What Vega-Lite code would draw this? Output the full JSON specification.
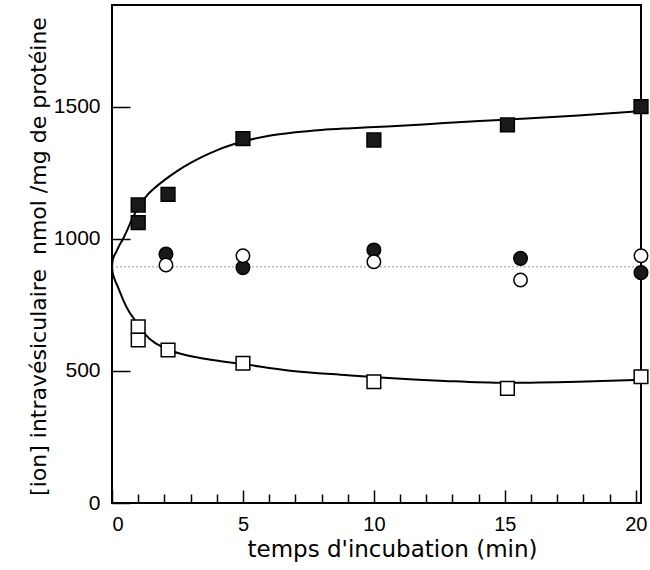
{
  "$schema": "https://vega.github.io/schema/vega-lite/v6.json",
  "width": 529,
  "height": 498,
  "autosize": {"type": "none"},
  "padding": {"left": 112, "top": 5, "right": 9, "bottom": 67},
  "background": "white",
  "config": {
    "view": {"stroke": "black", "strokeWidth": 2},
    "font": "Liberation Sans",
    "axis": {"labelFont": "Liberation Sans", "titleFont": "DejaVu Sans", "labelColor": "black", "titleColor": "black", "tickColor": "black", "domain": false, "grid": false, "titleFontWeight": "normal"}
  },
  "datasets": {
    "points": [
      {"t": 1, "v": 1128, "serie": "carré plein"},
      {"t": 1, "v": 1061, "serie": "carré plein"},
      {"t": 2.14, "v": 1168, "serie": "carré plein"},
      {"t": 5, "v": 1379, "serie": "carré plein"},
      {"t": 10, "v": 1374, "serie": "carré plein"},
      {"t": 15.1, "v": 1431, "serie": "carré plein"},
      {"t": 20.2, "v": 1500, "serie": "carré plein"},
      {"t": 1, "v": 667, "serie": "carré vide"},
      {"t": 1, "v": 617, "serie": "carré vide"},
      {"t": 2.14, "v": 579, "serie": "carré vide"},
      {"t": 5, "v": 529, "serie": "carré vide"},
      {"t": 10, "v": 459, "serie": "carré vide"},
      {"t": 15.1, "v": 434, "serie": "carré vide"},
      {"t": 20.2, "v": 478, "serie": "carré vide"},
      {"t": 2.06, "v": 942, "serie": "rond plein"},
      {"t": 5, "v": 891, "serie": "rond plein"},
      {"t": 10, "v": 958, "serie": "rond plein"},
      {"t": 15.6, "v": 926, "serie": "rond plein"},
      {"t": 20.2, "v": 872, "serie": "rond plein"},
      {"t": 2.06, "v": 901, "serie": "rond vide"},
      {"t": 5, "v": 936, "serie": "rond vide"},
      {"t": 10, "v": 913, "serie": "rond vide"},
      {"t": 15.6, "v": 844, "serie": "rond vide"},
      {"t": 20.2, "v": 936, "serie": "rond vide"}
    ],
    "curves": [
      {"t": 0, "v": 895, "c": "haut"},
      {"t": 0.02, "v": 915, "c": "haut"},
      {"t": 0.06, "v": 930, "c": "haut"},
      {"t": 0.15, "v": 948, "c": "haut"},
      {"t": 0.28, "v": 975, "c": "haut"},
      {"t": 0.44, "v": 1003, "c": "haut"},
      {"t": 0.6, "v": 1037, "c": "haut"},
      {"t": 0.75, "v": 1071, "c": "haut"},
      {"t": 0.9, "v": 1100, "c": "haut"},
      {"t": 1.1, "v": 1133, "c": "haut"},
      {"t": 1.3, "v": 1160, "c": "haut"},
      {"t": 1.6, "v": 1190, "c": "haut"},
      {"t": 2.0, "v": 1222, "c": "haut"},
      {"t": 2.5, "v": 1257, "c": "haut"},
      {"t": 3, "v": 1287, "c": "haut"},
      {"t": 3.5, "v": 1313, "c": "haut"},
      {"t": 4, "v": 1335, "c": "haut"},
      {"t": 5, "v": 1368, "c": "haut"},
      {"t": 6, "v": 1390, "c": "haut"},
      {"t": 7, "v": 1403, "c": "haut"},
      {"t": 8, "v": 1412, "c": "haut"},
      {"t": 9, "v": 1418, "c": "haut"},
      {"t": 10.5, "v": 1425, "c": "haut"},
      {"t": 12.7, "v": 1438, "c": "haut"},
      {"t": 15, "v": 1451, "c": "haut"},
      {"t": 17.8, "v": 1467, "c": "haut"},
      {"t": 20.2, "v": 1483, "c": "haut"},
      {"t": 0, "v": 895, "c": "bas"},
      {"t": 0.02, "v": 875, "c": "bas"},
      {"t": 0.09, "v": 850, "c": "bas"},
      {"t": 0.22, "v": 819, "c": "bas"},
      {"t": 0.43, "v": 768, "c": "bas"},
      {"t": 0.69, "v": 718, "c": "bas"},
      {"t": 0.8, "v": 703, "c": "bas"},
      {"t": 1.23, "v": 642, "c": "bas"},
      {"t": 2.1, "v": 582, "c": "bas"},
      {"t": 2.7, "v": 563, "c": "bas"},
      {"t": 3.6, "v": 545, "c": "bas"},
      {"t": 5, "v": 526, "c": "bas"},
      {"t": 6.8, "v": 501, "c": "bas"},
      {"t": 9, "v": 484, "c": "bas"},
      {"t": 10.4, "v": 474, "c": "bas"},
      {"t": 12.7, "v": 462, "c": "bas"},
      {"t": 15, "v": 455, "c": "bas"},
      {"t": 17.8, "v": 459, "c": "bas"},
      {"t": 20.2, "v": 466, "c": "bas"}
    ],
    "ref": [
      {"t": 0, "v": 894},
      {"t": 20.2, "v": 894}
    ]
  },
  "encoding": {
    "x": {
      "field": "t", "type": "quantitative",
      "scale": {"domain": [0, 20.2], "nice": false, "zero": false},
      "axis": {
        "title": "temps d'incubation (min)",
        "values": [0,1,2,3,4,5,6,7,8,9,10,11,12,13,14,15,16,17,18,19,20],
        "labelExpr": "datum.value % 5 === 0 ? datum.label : ''",
        "tickSize": {"condition": {"test": "datum.value % 5 === 0", "value": -13}, "value": -9},
        "tickWidth": 1.5,
        "labelPadding": 24,
        "labelFontSize": 20,
        "titleFontSize": 23,
        "titleX": 280,
        "titleY": 53,
        "titleBaseline": "alphabetic",
        "titleAlign": "center"
      }
    },
    "y": {
      "field": "v", "type": "quantitative",
      "scale": {"domain": [0, 1885], "nice": false},
      "axis": {
        "title": "[ion] intravésiculaire \u00a0nmol /mg de protéine",
        "format": "d",
        "values": [0, 500, 1000, 1500],
        "tickSize": -18,
        "tickWidth": 1.5,
        "labelPadding": 30,
        "labelFontSize": 21,
        "titleFontSize": 22,
        "titleX": -67,
        "titleY": 251,
        "titleBaseline": "alphabetic",
        "titleAlign": "center",
        "titleAngle": 270
      }
    }
  },
  "layer": [
    {
      "data": {"name": "ref"},
      "mark": {"type": "line", "color": "#bbbbbb", "strokeWidth": 1.5, "strokeDash": [2, 2]}
    },
    {
      "data": {"name": "curves"},
      "mark": {"type": "line", "color": "black", "strokeWidth": 2, "interpolate": "monotone"},
      "encoding": {"detail": {"field": "c"}, "order": {"field": "t", "type": "quantitative"}}
    },
    {
      "data": {"name": "points"},
      "mark": {"type": "point", "filled": true, "stroke": "black", "strokeWidth": 1.5, "opacity": 1},
      "encoding": {
        "shape": {"field": "serie", "type": "nominal", "legend": null,
          "scale": {"domain": ["carré plein", "carré vide", "rond plein", "rond vide"], "range": ["square", "square", "circle", "circle"]}},
        "fill": {"field": "serie", "type": "nominal", "legend": null,
          "scale": {"domain": ["carré plein", "carré vide", "rond plein", "rond vide"], "range": ["#1a1a1a", "white", "#1a1a1a", "white"]}},
        "size": {"field": "serie", "type": "nominal", "legend": null,
          "scale": {"domain": ["carré plein", "carré vide", "rond plein", "rond vide"], "range": [190, 180, 70, 90]}}
      }
    }
  ]
}
